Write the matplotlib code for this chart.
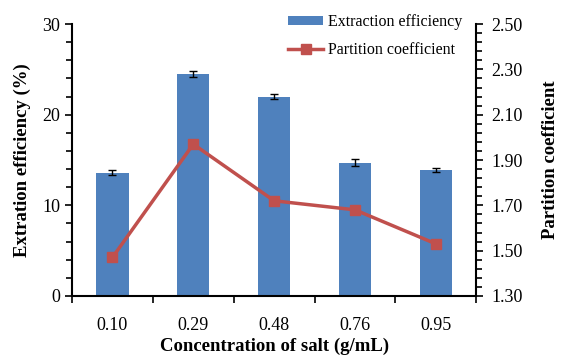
import numpy as np
import matplotlib.pyplot as plt
from matplotlib.ticker import MultipleLocator, FixedLocator

plt.rcParams['font.family'] = ['Liberation Serif', 'DejaVu Serif']

salt = ['0.10', '0.29', '0.48', '0.76', '0.95']
efficiency = [13.6, 24.5, 22.0, 14.7, 13.9]
efficiency_err = [0.3, 0.3, 0.3, 0.4, 0.25]
partition = [1.47, 1.97, 1.72, 1.68, 1.53]

fig = plt.figure(figsize=(5.67, 3.6), dpi=100)
ax = fig.add_axes([0.127, 0.178, 0.713, 0.755])
x = np.arange(len(salt))

bars = ax.bar(x, efficiency, width=0.4, color='#4F81BD', yerr=efficiency_err,
              error_kw=dict(ecolor='black', elinewidth=1, capsize=3, capthick=1),
              label='Extraction efficiency')
ax.set_xlim(-0.5, len(salt) - 0.5)
ax.set_ylim(0, 30)
ax.yaxis.set_major_locator(MultipleLocator(10))
ax.yaxis.set_minor_locator(MultipleLocator(2))
ax.set_xticks(np.arange(-0.5, len(salt), 1))
ax.set_xticklabels([])
ax.set_xticks(x, minor=True)
ax.set_xticklabels(salt, minor=True)
ax.tick_params(axis='x', which='minor', length=0, pad=15, labelsize=13)
ax.tick_params(axis='x', which='major', length=5, width=1.2)
ax.tick_params(axis='y', which='major', length=5, width=1.2, labelsize=13)
ax.tick_params(axis='y', which='minor', length=4, width=1.2)
for s in ['top', 'right']:
    ax.spines[s].set_visible(False)
for s in ['left', 'bottom']:
    ax.spines[s].set_linewidth(1.5)
ax.set_ylabel('Extration efficiency (%)', fontsize=13.5, fontweight='bold', labelpad=8)
ax.set_xlabel('Concentration of salt (g/mL)', fontsize=13.5, fontweight='bold', labelpad=3)

ax2 = ax.twinx()
line, = ax2.plot(x, partition, color='#C0504D', lw=2.5, marker='s', markersize=7,
                 label='Partition coefficient')
ax2.set_ylim(1.3, 2.5)
ax2.yaxis.set_major_locator(FixedLocator(np.arange(1.3, 2.51, 0.2)))
ax2.yaxis.set_minor_locator(FixedLocator(np.arange(1.3, 2.51, 0.04)))
ax2.yaxis.set_major_formatter('{x:.2f}')
ax2.tick_params(axis='y', which='major', length=5, width=1.2, labelsize=13, pad=6)
ax2.tick_params(axis='y', which='minor', length=4, width=1.2)
for s in ['top', 'left', 'bottom']:
    ax2.spines[s].set_visible(False)
ax2.spines['right'].set_linewidth(1.5)
ax2.set_ylabel('Partition coefficient', fontsize=13.5, fontweight='bold', labelpad=14)

fig.legend([bars, line], ['Extraction efficiency', 'Partition coefficient'],
           loc='upper left', bbox_to_anchor=(0.483, 1.0), frameon=False,
           fontsize=11.5, handlelength=2.2, handleheight=0.5, handletextpad=0.3,
           labelspacing=0.75)

fig.savefig('out.png', dpi=100)
